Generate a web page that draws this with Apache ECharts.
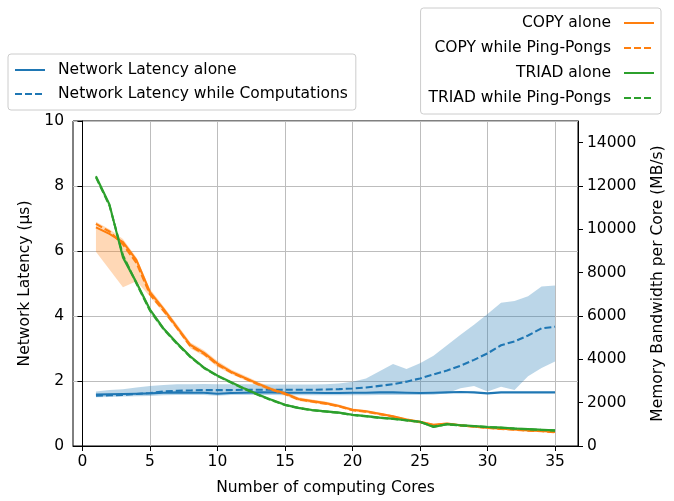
<!DOCTYPE html>
<html>
<head>
<meta charset="utf-8">
<script src="https://cdn.jsdelivr.net/npm/echarts@6/dist/echarts.min.js"></script>
<style>
  html, body { margin: 0; padding: 0; background: #fff; }
  #chart { width: 674px; height: 501px; }
</style>
</head>
<body>
<div id="chart"></div>
<script>
  // number of computing cores
  var cores = [1,2,3,4,5,6,7,8,9,10,11,12,13,14,15,16,17,18,19,20,21,22,23,24,25,26,27,28,29,30,31,32,33,34,35]
  var xTicks = [0,5,10,15,20,25,30,35]
  var bwTicks = [0,2000,4000,6000,8000,10000,12000,14000]

  // network latency (us), left axis
  var latencyAlone = [1.58,1.59,1.60,1.61,1.62,1.64,1.65,1.64,1.64,1.61,1.63,1.64,1.65,1.65,1.64,1.64,1.64,1.63,1.63,1.64,1.64,1.65,1.65,1.64,1.63,1.64,1.65,1.66,1.65,1.62,1.65,1.65,1.65,1.65,1.65]
  var latencyWhile = [1.55,1.56,1.57,1.60,1.63,1.68,1.70,1.71,1.72,1.72,1.72,1.73,1.73,1.73,1.73,1.73,1.73,1.74,1.75,1.77,1.80,1.85,1.90,1.98,2.08,2.20,2.32,2.47,2.65,2.85,3.10,3.22,3.40,3.62,3.67]
  var latencyWhileLow = [1.50,1.51,1.52,1.53,1.54,1.56,1.57,1.57,1.57,1.55,1.57,1.57,1.57,1.57,1.56,1.56,1.56,1.56,1.56,1.56,1.56,1.57,1.57,1.57,1.57,1.58,1.62,1.78,1.85,1.68,1.82,1.72,2.15,2.40,2.60]
  var latencyWhileHigh = [1.68,1.72,1.75,1.80,1.85,1.88,1.90,1.90,1.91,1.90,1.90,1.90,1.90,1.89,1.89,1.89,1.89,1.90,1.92,1.98,2.08,2.30,2.52,2.37,2.55,2.78,3.10,3.42,3.73,4.06,4.41,4.46,4.61,4.91,4.94]

  // memory bandwidth per core (MB/s), right axis
  var copyAlone = [10090,9790,9410,8580,7100,6330,5490,4660,4300,3800,3430,3150,2880,2620,2430,2170,2070,1980,1850,1670,1600,1490,1370,1220,1120,980,1040,960,900,840,800,760,720,690,650]
  var copyWhile = [10250,9900,9300,8450,7000,6250,5450,4600,4250,3750,3400,3120,2850,2600,2400,2150,2050,1950,1830,1650,1580,1470,1350,1200,1100,960,1020,950,890,830,790,750,710,680,640]
  var copyLow = [8960,8150,7330,7600,6900,6150,5350,4500,4150,3650,3320,3050,2780,2520,2330,2080,1980,1900,1780,1600,1530,1420,1300,1150,1050,920,980,910,850,800,760,720,690,660,620]
  var copyHigh = [10350,10000,9550,8700,7250,6450,5620,4780,4420,3920,3530,3250,2970,2700,2520,2250,2150,2050,1920,1730,1660,1550,1420,1280,1170,1030,1090,1000,940,880,840,800,760,720,680]
  var triadAlone = [12450,11150,8700,7550,6300,5430,4750,4130,3620,3250,2950,2650,2380,2130,1900,1760,1660,1600,1540,1440,1380,1310,1260,1190,1120,880,1010,960,920,880,850,810,780,750,720]
  var triadWhile = [12400,11100,8800,7500,6250,5400,4720,4100,3600,3230,2930,2630,2360,2110,1890,1750,1650,1590,1530,1430,1370,1300,1250,1180,1110,900,1000,950,910,870,840,800,770,740,710]
  var triadLow = [12300,11000,8600,7400,6150,5320,4650,4050,3540,3170,2870,2570,2300,2060,1840,1700,1600,1540,1480,1380,1320,1250,1200,1130,1060,830,950,900,860,820,790,750,720,690,660]
  var triadHigh = [12500,11200,8900,7650,6380,5500,4800,4190,3680,3310,3010,2710,2440,2190,1950,1810,1710,1650,1590,1490,1430,1360,1310,1240,1170,940,1060,1010,970,930,900,860,830,800,770]

  var BLUE = '#1f77b4', ORANGE = '#ff7f0e', GREEN = '#2ca02c'
  var FONT = 'DejaVu Sans'
  var FS = 15.5

  function pairs (ys) {
    return cores.map(function (c, i) { return [c, ys[i]] })
  }

  function lineSeries (name, ys, color, dashed, yIdx) {
    return {
      name: name,
      type: 'line',
      yAxisIndex: yIdx,
      data: pairs(ys),
      symbol: 'none',
      silent: true,
      animation: false,
      lineStyle: { color: color, width: 2.1, type: dashed ? [7, 3] : 'solid' },
      itemStyle: { color: color }
    }
  }

  // shaded min/max band, drawn as one polygon through the axis scales
  function bandSeries (low, high, color, yIdx) {
    return {
      type: 'custom',
      yAxisIndex: yIdx,
      silent: true,
      animation: false,
      data: cores.map(function (c, i) { return [c, low[i], high[i]] }),
      encode: { x: 0, y: [1, 2] },
      renderItem: function (params, api) {
        if (params.dataIndex !== 0) return null
        var pts = []
        for (var i = 0; i < cores.length; i++) pts.push(api.coord([cores[i], high[i]]))
        for (var j = cores.length - 1; j >= 0; j--) pts.push(api.coord([cores[j], low[j]]))
        return { type: 'polygon', shape: { points: pts }, style: { fill: color } }
      }
    }
  }

  var series = [
    bandSeries(latencyWhileLow, latencyWhileHigh, 'rgba(31,119,180,0.3)', 0),
    lineSeries('Network Latency alone', latencyAlone, BLUE, false, 0),
    lineSeries('Network Latency while Computations', latencyWhile, BLUE, true, 0),
    bandSeries(copyLow, copyHigh, 'rgba(255,127,14,0.3)', 1),
    lineSeries('COPY alone', copyAlone, ORANGE, false, 1),
    lineSeries('COPY while Ping-Pongs', copyWhile, ORANGE, true, 1),
    bandSeries(triadLow, triadHigh, 'rgba(44,160,44,0.3)', 1),
    lineSeries('TRIAD alone', triadAlone, GREEN, false, 1),
    lineSeries('TRIAD while Ping-Pongs', triadWhile, GREEN, true, 1)
  ]

  var legendBase = {
    orient: 'vertical',
    itemWidth: 30,
    itemHeight: 14,
    borderColor: '#cccccc',
    borderWidth: 1,
    borderRadius: 3,
    backgroundColor: '#ffffff',
    itemStyle: { opacity: 0 },
    selectedMode: false
  }

  var option = {
    animation: false,
    textStyle: { fontFamily: FONT },
    grid: {
      left: 73, right: 79, top: 121, bottom: 48,
      show: true, borderColor: '#000', borderWidth: 1, backgroundColor: 'transparent'
    },
    legend: [
      Object.assign({}, legendBase, {
        left: 8, top: 54,
        itemGap: 8,
        padding: [8, 8, 8, 6],
        textStyle: { fontFamily: FONT, fontSize: FS, color: '#000', padding: [0, 0, 0, 8] },
        data: ['Network Latency alone', 'Network Latency while Computations']
      }),
      Object.assign({}, legendBase, {
        right: 13, top: 8,
        align: 'right',
        itemGap: 9,
        padding: [7, 6, 8, 8],
        textStyle: { fontFamily: FONT, fontSize: FS, color: '#000', padding: [0, 8, 0, 0] },
        data: ['COPY alone', 'COPY while Ping-Pongs', 'TRIAD alone', 'TRIAD while Ping-Pongs']
      })
    ],
    xAxis: {
      type: 'value',
      min: -0.7,
      max: 36.7,
      name: 'Number of computing Cores',
      nameLocation: 'middle',
      nameGap: 34,
      nameTextStyle: { fontFamily: FONT, fontSize: FS, color: '#000' },
      axisLine: { lineStyle: { color: '#000' } },
      axisTick: { show: true, length: 5, customValues: xTicks, lineStyle: { color: '#000' } },
      axisLabel: { customValues: xTicks, margin: 8, fontFamily: FONT, fontSize: FS, color: '#000' },
      splitLine: { show: true, lineStyle: { color: '#bdbdbd', width: 1 } }
    },
    yAxis: [{
      type: 'value',
      min: 0,
      max: 10,
      interval: 2,
      position: 'left',
      name: 'Network Latency (µs)',
      nameLocation: 'middle',
      nameGap: 35,
      nameTextStyle: { fontFamily: FONT, fontSize: FS, color: '#000' },
      axisLine: { show: true, lineStyle: { color: '#000' } },
      axisTick: { show: true, length: 5, lineStyle: { color: '#000' } },
      axisLabel: { margin: 9, fontFamily: FONT, fontSize: FS, color: '#000' },
      splitLine: { show: true, lineStyle: { color: '#bdbdbd', width: 1 } }
    }, {
      type: 'value',
      min: 0,
      max: 15000,
      position: 'right',
      name: 'Memory Bandwidth per Core (MB/s)',
      nameLocation: 'middle',
      nameGap: 72,
      nameTextStyle: { fontFamily: FONT, fontSize: FS, color: '#000' },
      axisLine: { show: true, lineStyle: { color: '#000' } },
      axisTick: { show: true, length: 5, customValues: bwTicks, lineStyle: { color: '#000' } },
      axisLabel: {
        customValues: bwTicks, margin: 9, fontFamily: FONT, fontSize: FS, color: '#000',
        formatter: function (v) { return String(v) }
      },
      splitLine: { show: false }
    }],
    series: series
  }

  var chart = echarts.init(document.getElementById('chart'), null, { renderer: 'canvas' })
  chart.setOption(option)
</script>
</body>
</html>
